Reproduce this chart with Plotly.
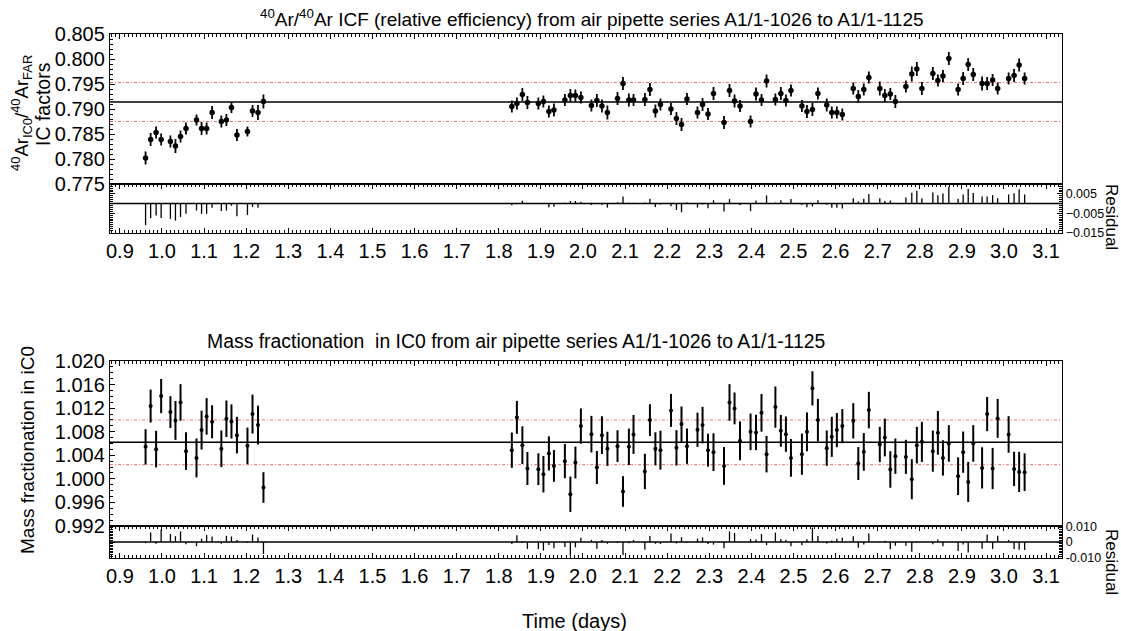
import plotly.graph_objects as go

# ---------------- data ----------------
time_days = [
    0.961, 0.973, 0.986, 0.998, 1.020, 1.032, 1.044, 1.057, 1.082, 1.094, 1.106, 1.119,
    1.141, 1.153, 1.165, 1.178, 1.203, 1.215, 1.228, 1.241,
    1.831, 1.843, 1.856, 1.868, 1.894, 1.906, 1.919, 1.931, 1.957, 1.970, 1.982, 1.995,
    2.020, 2.033, 2.045, 2.058, 2.082, 2.095, 2.109, 2.120, 2.147, 2.159, 2.172, 2.184,
    2.209, 2.222, 2.234, 2.247, 2.272, 2.284, 2.297, 2.310, 2.335, 2.348, 2.360, 2.373,
    2.398, 2.411, 2.424, 2.436, 2.457, 2.470, 2.482, 2.494, 2.520, 2.532, 2.545, 2.558,
    2.579, 2.591, 2.603, 2.616, 2.642, 2.654, 2.667, 2.679, 2.705, 2.717, 2.730, 2.742,
    2.767, 2.781, 2.793, 2.805, 2.831, 2.843, 2.855, 2.869, 2.891, 2.903, 2.915, 2.927,
    2.948, 2.960, 2.973, 2.985, 3.011, 3.024, 3.036, 3.049,
]

icf = [
    0.7802, 0.7839, 0.7853, 0.7839, 0.7835, 0.7826, 0.7845, 0.7861, 0.7878, 0.7861,
    0.7861, 0.7893, 0.7875, 0.7878, 0.7903, 0.7848, 0.7855, 0.7896, 0.7893, 0.7915,
    0.7905, 0.7911, 0.7929, 0.7913, 0.7911, 0.7915, 0.7895, 0.7898, 0.7918, 0.7927,
    0.7927, 0.7923, 0.7907, 0.7917, 0.7906, 0.7893, 0.7921, 0.7951, 0.7918, 0.7918,
    0.7919, 0.7939, 0.7896, 0.7909, 0.7900, 0.7881, 0.7869, 0.7920, 0.7893, 0.7909,
    0.7890, 0.7931, 0.7873, 0.7937, 0.7916, 0.7906, 0.7875, 0.7930, 0.7918, 0.7956,
    0.7919, 0.7931, 0.7917, 0.7937, 0.7906, 0.7895, 0.7899, 0.7931, 0.7908, 0.7893,
    0.7893, 0.7889, 0.7941, 0.7925, 0.7939, 0.7963, 0.7941, 0.7927, 0.7930, 0.7915,
    0.7945, 0.7970, 0.7980, 0.7941, 0.7971, 0.7957, 0.7966, 0.8001, 0.7939, 0.7961,
    0.7989, 0.7969, 0.7951, 0.7951, 0.7958, 0.7941, 0.7961, 0.7967, 0.7988, 0.7961,
]

icf_err = [
    0.0013, 0.0013, 0.0012, 0.0012, 0.0012, 0.0014, 0.0012, 0.0012, 0.0011, 0.0013,
    0.0012, 0.0013, 0.0012, 0.0012, 0.0011, 0.0012, 0.0010, 0.0012, 0.0015, 0.0014,
    0.0012, 0.0012, 0.0013, 0.0013, 0.0012, 0.0012, 0.0012, 0.0013, 0.0012, 0.0013,
    0.0012, 0.0012, 0.0012, 0.0013, 0.0013, 0.0014, 0.0013, 0.0013, 0.0013, 0.0012,
    0.0013, 0.0013, 0.0013, 0.0012, 0.0012, 0.0013, 0.0013, 0.0012, 0.0012, 0.0013,
    0.0012, 0.0013, 0.0013, 0.0013, 0.0013, 0.0012, 0.0012, 0.0013, 0.0012, 0.0013,
    0.0012, 0.0013, 0.0012, 0.0012, 0.0012, 0.0013, 0.0013, 0.0012, 0.0013, 0.0012,
    0.0012, 0.0012, 0.0012, 0.0013, 0.0012, 0.0012, 0.0014, 0.0013, 0.0012, 0.0013,
    0.0012, 0.0015, 0.0014, 0.0013, 0.0013, 0.0012, 0.0012, 0.0013, 0.0012, 0.0013,
    0.0013, 0.0013, 0.0014, 0.0013, 0.0012, 0.0012, 0.0012, 0.0013, 0.0013, 0.0012,
]

mass_frac = [
    1.00543, 1.01235, 1.00504, 1.01405, 1.01133, 1.00992, 1.01297, 1.00470, 1.00356, 1.00827,
    1.01060, 1.00969, 1.00510, 1.01020, 1.00974, 1.00742, 1.00560, 1.01099, 1.00912, 0.99853,
    1.00487, 1.01043, 1.00572, 1.00176, 1.00164, 1.00079, 1.00431, 1.00220, 1.00300, 0.99739,
    1.00277, 1.00895, 1.00759, 1.00193, 1.00742, 1.00510, 1.00555, 0.99785, 1.00543, 1.00754,
    1.00125, 1.00997, 1.00510, 1.00487, 1.01162, 1.00526, 1.00929, 1.00555, 1.00833, 1.00912,
    1.00487, 1.00453, 1.00220, 1.01297, 1.01196, 1.00645, 1.00798, 1.00787, 1.01121, 1.00419,
    1.01218, 1.00815, 1.00759, 1.00356, 1.00419, 1.00798, 1.01536, 1.00997, 1.00521, 1.00713,
    1.00827, 1.00895, 1.00985, 1.00260, 1.00458, 1.01167, 1.00583, 1.00702, 1.00159, 1.00385,
    1.00373, 0.99994, 1.00572, 1.00628, 1.00470, 1.00781, 1.00356, 1.00601, 1.00045, 1.00453,
    0.99948, 1.00601, 1.00186, 1.01099, 1.00176, 1.01026, 1.00754, 1.00169, 1.00118, 1.00113,
]

mass_frac_err = [
    0.0030, 0.0028, 0.0031, 0.0029, 0.0027, 0.0033, 0.0031, 0.0032, 0.0033, 0.0033,
    0.0031, 0.0028, 0.0031, 0.0031, 0.0029, 0.0031, 0.0031, 0.0033, 0.0033, 0.0026,
    0.0030, 0.0028, 0.0032, 0.0028, 0.0027, 0.0031, 0.0029, 0.0027, 0.0029, 0.0030,
    0.0027, 0.0030, 0.0031, 0.0028, 0.0032, 0.0029, 0.0027, 0.0026, 0.0031, 0.0033,
    0.0030, 0.0027, 0.0028, 0.0033, 0.0028, 0.0030, 0.0030, 0.0030, 0.0029, 0.0031,
    0.0028, 0.0032, 0.0032, 0.0031, 0.0027, 0.0033, 0.0031, 0.0030, 0.0032, 0.0031,
    0.0035, 0.0027, 0.0030, 0.0032, 0.0035, 0.0033, 0.0029, 0.0036, 0.0030, 0.0034,
    0.0029, 0.0029, 0.0030, 0.0028, 0.0032, 0.0031, 0.0030, 0.0032, 0.0031, 0.0030,
    0.0029, 0.0034, 0.0031, 0.0034, 0.0035, 0.0037, 0.0030, 0.0031, 0.0032, 0.0035,
    0.0034, 0.0031, 0.0035, 0.0029, 0.0035, 0.0033, 0.0031, 0.0029, 0.0034, 0.0032,
]

ICF_MEAN = 0.7914
ICF_BAND = 0.0039
MF_MEAN = 1.0062
MF_BAND = 0.0038

x_ticks = [0.9, 1.0, 1.1, 1.2, 1.3, 1.4, 1.5, 1.6, 1.7, 1.8, 1.9, 2.0, 2.1, 2.2, 2.3, 2.4, 2.5,
           2.6, 2.7, 2.8, 2.9, 3.0, 3.1]
icf_ticks = [0.775, 0.780, 0.785, 0.790, 0.795, 0.800, 0.805]
mf_ticks = [0.992, 0.996, 1.000, 1.004, 1.008, 1.012, 1.016, 1.020]
icf_res_ticks = [0.005, -0.005, -0.015]
mf_res_ticks = [0.010, 0.0, -0.010]
mf_res_ticktext = ["0.010", "0", "-0.010"]

# ---------------- figure ----------------
W, H = 1121, 631
FONT = "Liberation Sans, Arial, Helvetica, sans-serif"
XR = [0.8765, 3.1378]
XD = [110 / W, 1062 / W]


def ydom(top_px, bot_px):
    return [(H - bot_px) / H, (H - top_px) / H]


def stems(xs, vals, mean):
    sx, sy = [], []
    for t, v in zip(xs, vals):
        sx += [t, t, None]
        sy += [0, v - mean, None]
    return sx, sy


fig = go.Figure()

fig.add_trace(go.Scatter(
    x=time_days, y=icf, mode="markers", xaxis="x", yaxis="y",
    marker=dict(color="black", size=5.5),
    error_y=dict(type="data", array=icf_err, width=0, thickness=1.8, color="black"),
    showlegend=False, hoverinfo="skip"))
sx, sy = stems(time_days, icf, ICF_MEAN)
fig.add_trace(go.Scatter(x=sx, y=sy, mode="lines", xaxis="x2", yaxis="y2",
                         line=dict(color="black", width=1.3), showlegend=False, hoverinfo="skip"))
fig.add_trace(go.Scatter(
    x=time_days, y=mass_frac, mode="markers", xaxis="x3", yaxis="y3",
    marker=dict(color="black", size=4),
    error_y=dict(type="data", array=mass_frac_err, width=0, thickness=2, color="black"),
    showlegend=False, hoverinfo="skip"))
sx, sy = stems(time_days, mass_frac, MF_MEAN)
fig.add_trace(go.Scatter(x=sx, y=sy, mode="lines", xaxis="x4", yaxis="y4",
                         line=dict(color="black", width=1.3), showlegend=False, hoverinfo="skip"))

shapes = []
red = "rgb(235,110,110)"
for xr, yr, m, b in [("x domain", "y", ICF_MEAN, ICF_BAND), ("x3 domain", "y3", MF_MEAN, MF_BAND)]:
    shapes.append(dict(type="line", xref=xr, yref=yr, x0=0, x1=1, y0=m, y1=m,
                       line=dict(color="black", width=1.5), layer="below"))
    for yy in (m - b, m + b):
        shapes.append(dict(type="line", xref=xr, yref=yr, x0=0, x1=1, y0=yy, y1=yy,
                           line=dict(color=red, width=1, dash="3px,2px,1px,2px"), layer="below"))
for xr, yr in [("x2 domain", "y2"), ("x4 domain", "y4")]:
    shapes.append(dict(type="line", xref=xr, yref=yr, x0=0, x1=1, y0=0, y1=0,
                       line=dict(color="black", width=1.5), layer="below"))

common_x = dict(range=XR, domain=XD, showline=True, linecolor="black", linewidth=1.3,
                ticks="inside", ticklen=5, tickcolor="black", tickvals=x_ticks, tickformat=".1f",
                minor=dict(ticks="inside", ticklen=2.5, dtick=0.01, tick0=0.9, tickcolor="black"),
                showgrid=False, zeroline=False, automargin=False,
                tickfont=dict(family=FONT, size=20, color="black"))
common_y = dict(showline=True, linecolor="black", linewidth=1.3, ticks="inside", ticklen=5,
                tickcolor="black", showgrid=False, zeroline=False, automargin=False,
                tickfont=dict(family=FONT, size=20, color="black"))
res_font = dict(family=FONT, size=12.5, color="black")

fig.update_layout(
    width=W, height=H, autosize=False,
    margin=dict(l=0, r=0, t=0, b=0, pad=0),
    paper_bgcolor="white", plot_bgcolor="white",
    font=dict(family=FONT, color="black"),
    shapes=shapes,
    xaxis=dict(common_x, anchor="y", side="top", mirror=True, showticklabels=False),
    xaxis2=dict(common_x, anchor="y2", matches="x", mirror="allticks", showticklabels=True),
    xaxis3=dict(common_x, anchor="y3", side="top", mirror=True, showticklabels=False),
    xaxis4=dict(common_x, anchor="y4", matches="x3", mirror="allticks", showticklabels=True),
    yaxis=dict(common_y, anchor="x", domain=ydom(34, 184), range=[0.775, 0.805],
               tickvals=icf_ticks, tickformat=".3f", mirror=True,
               minor=dict(ticks="inside", ticklen=2.5, dtick=0.001, tickcolor="black")),
    yaxis2=dict(common_y, anchor="x2", domain=ydom(184, 233), range=[-0.0152, 0.0101],
                side="right", tickvals=icf_res_ticks, tickformat=".3f", mirror="allticks",
                tickfont=res_font,
                minor=dict(ticks="inside", ticklen=2.5, dtick=0.001, tickcolor="black")),
    yaxis3=dict(common_y, anchor="x3", domain=ydom(361, 526), range=[0.992, 1.020],
                tickvals=mf_ticks, tickformat=".3f", mirror=True,
                minor=dict(ticks="inside", ticklen=2.5, dtick=0.001, tickcolor="black")),
    yaxis4=dict(common_y, anchor="x4", domain=ydom(526, 558), range=[-0.0102, 0.0102],
                side="right", tickvals=mf_res_ticks, ticktext=mf_res_ticktext, mirror="allticks",
                tickfont=res_font,
                minor=dict(ticks="inside", ticklen=2.5, dtick=0.001, tickcolor="black")),
)


def px_x(p):
    return p / W


def px_y(p):
    return (H - p) / H


ann = [
    dict(text="<sup>40</sup>Ar/<sup>40</sup>Ar ICF (relative efficiency) from air pipette series A1/1-1026 to A1/1-1125",
         x=px_x(592), y=px_y(18), font=dict(size=19)),
    dict(text="Mass fractionation \u00a0in IC0 from air pipette series A1/1-1026 to A1/1-1125",
         x=px_x(516), y=px_y(341), font=dict(size=19.4)),
    dict(text="<sup>40</sup>Ar<sub>IC0</sub>/<sup>40</sup>Ar<sub>FAR</sub>",
         x=px_x(21), y=px_y(113), textangle=-90, font=dict(size=18.5)),
    dict(text="IC factors", x=px_x(43), y=px_y(104), textangle=-90, font=dict(size=19.5)),
    dict(text="Mass fractionation in iC0", x=px_x(28), y=px_y(450), textangle=-90,
         font=dict(size=19)),
    dict(text="Residual", x=px_x(1112), y=px_y(217), textangle=90, font=dict(size=17)),
    dict(text="Residual", x=px_x(1112), y=px_y(562), textangle=90, font=dict(size=17)),
    dict(text="Time (days)", x=px_x(574), y=px_y(621), font=dict(size=20)),
]
for a in ann:
    a.update(xref="paper", yref="paper", showarrow=False, xanchor="center", yanchor="middle")
    a["font"].update(family=FONT, color="black")
fig.update_layout(annotations=ann)

fig.write_html("out.html")
